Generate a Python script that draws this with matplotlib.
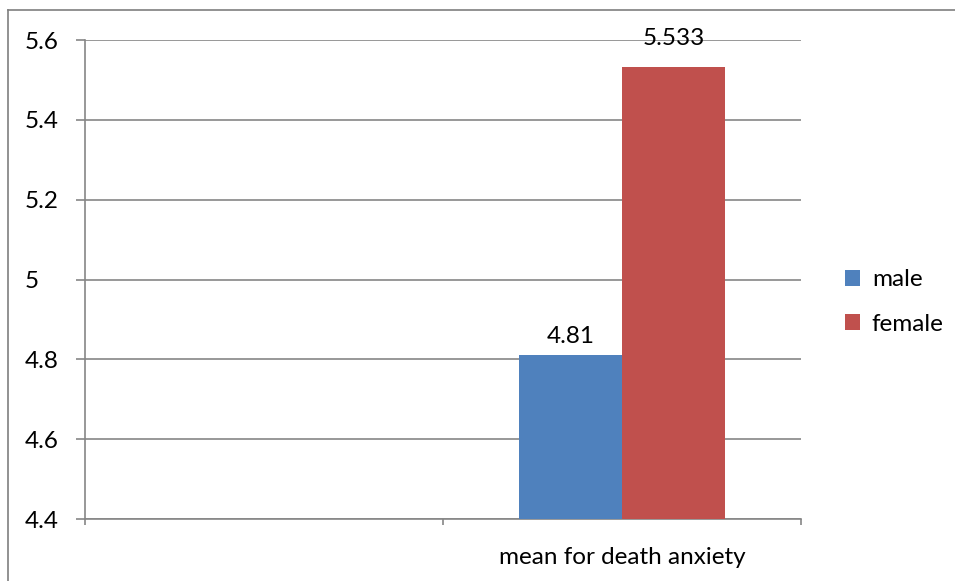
import numpy as np
import matplotlib.pyplot as plt
from matplotlib.lines import Line2D

plt.rcParams['font.family'] = ['Lato', 'DejaVu Sans']

categories = ["", "mean for death anxiety"]
series = ["male", "female"]
male = [np.nan, 4.81]
female = [np.nan, 5.533]
value_labels = {"male": "4.81", "female": "5.533"}
label_offsets = {"male": 6, "female": 13}
colors = ["#4F81BD", "#C0504D"]

W, H = 955, 581
fig = plt.figure(figsize=(W / 100, H / 100), dpi=100)
ax = fig.add_axes([85 / W, 1 - 519 / H, (801 - 85) / W, (519 - 40) / H])

x = np.arange(len(categories))
bw = 0.2875
grid_c = "#868686"
fs = 17.5

for i, (name, vals) in enumerate(zip(series, [male, female])):
    off = (i - 0.5) * bw
    ax.bar(x + off, vals, bw, color=colors[i], label=name, zorder=3)
    for xi, v in zip(x, vals):
        if not np.isnan(v):
            ax.annotate(value_labels[name], (xi + off, v), xytext=(0, label_offsets[name]),
                        textcoords="offset points", ha="center", va="bottom",
                        fontsize=fs, color="black")

ax.set_ylim(4.4, 5.6)
ax.set_xlim(-0.5, 1.5)
ax.set_yticks(np.arange(4.4, 5.61, 0.2))
ax.set_yticklabels(["4.4", "4.6", "4.8", "5", "5.2", "5.4", "5.6"], ha="left")
ax.yaxis.grid(True, color=grid_c, linewidth=1.2, zorder=0)
ax.set_axisbelow(True)

ax.set_xticks(x)
ax.set_xticklabels(categories)
ax.set_xticks([-0.5, 0.5, 1.5], minor=True)
ax.tick_params(axis="x", which="major", length=0, pad=20, labelsize=fs)
ax.tick_params(axis="x", which="minor", length=4, color=grid_c, width=1.2)
ax.tick_params(axis="y", length=6.5, color=grid_c, width=1.2, pad=37, labelsize=fs)

for s in ["top", "right"]:
    ax.spines[s].set_visible(False)
for s in ["left", "bottom"]:
    ax.spines[s].set_color(grid_c)
    ax.spines[s].set_linewidth(1.2)

ax.legend(loc="center left", bbox_to_anchor=(1.031, 0.453), frameon=False,
          fontsize=fs, handlelength=0.6, handleheight=0.6, handletextpad=0.5,
          labelspacing=0.95)

# chart border
fig.add_artist(Line2D([8 / W, 1], [1 - 10 / H, 1 - 10 / H], color="#7f7f7f", linewidth=1.2))
fig.add_artist(Line2D([8 / W, 8 / W], [0, 1 - 10 / H], color="#7f7f7f", linewidth=1.2))

fig.savefig("out.png", dpi=100)
